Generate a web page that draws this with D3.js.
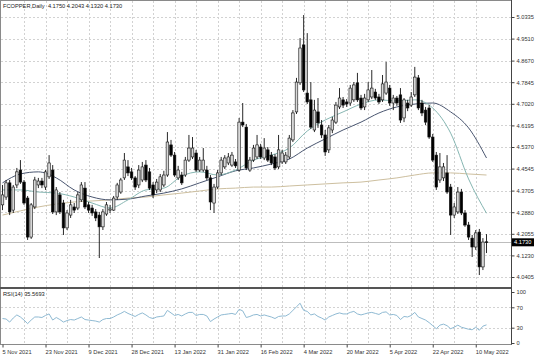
<!DOCTYPE html>
<html><head><meta charset="utf-8">
<script src="https://cdn.jsdelivr.net/npm/d3@7"></script>
<style>
html,body{margin:0;padding:0;background:#fff;}
svg{display:block;}
text{font-family:"Liberation Sans",Arial,sans-serif;}
</style>
</head><body>
<svg id="c" width="536" height="357"></svg>
<script>
// ---------- DATA ----------
const symbol = "FCOPPER,Daily";
// daily bars [open, high, low, close]
const bars = [
[4.316,4.392,4.296,4.354],[4.346,4.411,4.335,4.400],[4.400,4.411,4.277,4.289],[4.296,4.392,4.285,4.384],
[4.392,4.457,4.380,4.442],[4.449,4.487,4.396,4.403],[4.403,4.411,4.316,4.323],[4.342,4.350,4.182,4.193],
[4.193,4.323,4.186,4.316],[4.308,4.423,4.300,4.411],[4.392,4.419,4.380,4.407],[4.407,4.419,4.380,4.392],
[4.384,4.449,4.373,4.442],[4.423,4.506,4.415,4.476],[4.449,4.468,4.281,4.289],[4.289,4.384,4.277,4.373],
[4.354,4.365,4.281,4.289],[4.323,4.335,4.201,4.228],[4.228,4.296,4.220,4.285],[4.277,4.335,4.266,4.316],
[4.308,4.323,4.285,4.296],[4.304,4.365,4.296,4.354],[4.335,4.403,4.327,4.392],[4.380,4.403,4.300,4.308],
[4.316,4.327,4.285,4.296],[4.304,4.316,4.274,4.285],[4.289,4.300,4.254,4.266],[4.277,4.289,4.113,4.232],
[4.232,4.300,4.220,4.289],[4.281,4.327,4.274,4.316],[4.296,4.316,4.285,4.300],[4.296,4.350,4.293,4.342],
[4.346,4.400,4.335,4.392],[4.365,4.419,4.358,4.411],[4.419,4.514,4.411,4.487],[4.461,4.487,4.426,4.438],
[4.442,4.457,4.411,4.419],[4.419,4.426,4.373,4.384],[4.392,4.468,4.380,4.449],[4.411,4.480,4.403,4.461],
[4.468,4.487,4.403,4.411],[4.442,4.457,4.373,4.380],[4.392,4.403,4.342,4.354],[4.373,4.415,4.361,4.403],
[4.373,4.434,4.365,4.423],[4.392,4.446,4.384,4.430],[4.430,4.594,4.423,4.556],[4.545,4.564,4.499,4.506],
[4.506,4.518,4.423,4.430],[4.419,4.465,4.411,4.449],[4.430,4.442,4.392,4.400],[4.430,4.499,4.423,4.487],
[4.487,4.583,4.480,4.533],[4.499,4.575,4.491,4.533],[4.514,4.526,4.442,4.449],[4.449,4.499,4.442,4.487],
[4.449,4.533,4.442,4.487],[4.449,4.465,4.411,4.419],[4.419,4.430,4.296,4.327],[4.323,4.396,4.285,4.384],
[4.384,4.449,4.377,4.438],[4.438,4.499,4.430,4.487],[4.461,4.506,4.453,4.495],[4.476,4.514,4.468,4.499],
[4.468,4.518,4.461,4.506],[4.480,4.491,4.457,4.465],[4.449,4.648,4.442,4.632],[4.632,4.705,4.613,4.621],
[4.613,4.625,4.449,4.457],[4.449,4.499,4.442,4.487],[4.487,4.545,4.480,4.533],[4.499,4.583,4.491,4.545],
[4.537,4.549,4.491,4.499],[4.495,4.571,4.487,4.533],[4.526,4.537,4.480,4.487],[4.506,4.518,4.468,4.476],
[4.499,4.510,4.449,4.457],[4.461,4.583,4.453,4.526],[4.480,4.526,4.472,4.514],[4.480,4.518,4.472,4.506],
[4.499,4.583,4.491,4.571],[4.564,4.678,4.556,4.667],[4.671,4.801,4.663,4.785],[4.782,4.953,4.774,4.915],
[4.927,5.041,4.747,4.755],[4.743,4.972,4.701,4.709],[4.717,4.785,4.606,4.613],[4.602,4.717,4.594,4.678],
[4.671,4.724,4.610,4.629],[4.621,4.640,4.571,4.583],[4.583,4.602,4.503,4.518],[4.526,4.621,4.514,4.610],
[4.602,4.652,4.590,4.640],[4.632,4.709,4.625,4.697],[4.690,4.762,4.682,4.724],[4.717,4.728,4.686,4.697],
[4.709,4.720,4.690,4.701],[4.705,4.774,4.694,4.762],[4.717,4.785,4.709,4.774],[4.782,4.820,4.709,4.717],
[4.724,4.736,4.678,4.686],[4.690,4.740,4.678,4.724],[4.717,4.785,4.709,4.755],[4.728,4.831,4.720,4.762],
[4.747,4.759,4.717,4.724],[4.728,4.740,4.701,4.709],[4.717,4.812,4.709,4.778],[4.743,4.862,4.736,4.785],
[4.762,4.774,4.694,4.705],[4.705,4.736,4.678,4.724],[4.724,4.732,4.694,4.705],[4.736,4.762,4.629,4.640],
[4.648,4.724,4.632,4.717],[4.705,4.717,4.674,4.686],[4.697,4.747,4.690,4.728],[4.736,4.843,4.728,4.804],
[4.801,4.812,4.678,4.686],[4.705,4.717,4.655,4.667],[4.678,4.690,4.621,4.632],[4.686,4.697,4.568,4.575],
[4.575,4.587,4.480,4.487],[4.506,4.518,4.373,4.384],[4.411,4.514,4.400,4.461],[4.419,4.476,4.407,4.461],
[4.438,4.506,4.358,4.365],[4.384,4.396,4.201,4.277],[4.277,4.323,4.266,4.308],[4.289,4.384,4.281,4.365],
[4.365,4.377,4.277,4.285],[4.285,4.296,4.232,4.239],[4.239,4.251,4.182,4.193],[4.189,4.201,4.117,4.155],
[4.155,4.220,4.144,4.209],[4.212,4.224,4.048,4.079],[4.079,4.189,4.067,4.174],[4.1750,4.2043,4.1320,4.1730]
];

// moving averages read every 5 bars
const maIdx  = [0,5,10,15,20,25,30,35,40,45,50,55,60,65,70,75,80,85,90,95,100,105,110,115,120,125,130,135];
const maFast = [4.373,4.373,4.365,4.361,4.346,4.323,4.304,4.335,4.373,4.380,4.426,4.442,4.430,4.449,4.487,4.506,4.533,4.598,4.640,4.671,4.701,4.717,4.713,4.717,4.686,4.590,4.415,4.284];
const maMid  = [4.400,4.434,4.442,4.419,4.373,4.346,4.335,4.338,4.350,4.361,4.377,4.400,4.423,4.446,4.457,4.472,4.491,4.533,4.568,4.602,4.632,4.667,4.690,4.701,4.705,4.671,4.610,4.495];
const maSlow = [4.277,4.293,4.308,4.319,4.327,4.331,4.335,4.342,4.346,4.354,4.361,4.369,4.377,4.380,4.384,4.384,4.388,4.392,4.396,4.400,4.403,4.411,4.419,4.430,4.438,4.438,4.434,4.430];

// RSI(14), one value per bar
const rsi = [48,47,41,49,55,51,45,38,45,51,51,50,54,57,45,50,46,41,44,46,
45,48,51,46,45,44,43,41,46,48,48,51,55,58,62,58,55,52,56,59,
55,50,48,51,52,53,64,59,54,56,53,57,60,60,54,56,56,53,42,47,
51,55,56,57,58,56,66,63,50,52,55,56,53,55,53,51,48,52,53,53,
57,64,71,78,64,62,55,57,52,49,45,51,54,57,59,57,57,60,62,57,
55,57,59,60,58,56,60,61,55,56,54,46,52,51,54,60,51,48,45,40,
34,28,35,37,34,28,31,35,31,29,27,26,31,25,33,35.5693];

const priceTicks = [5.0335,4.9510,4.8670,4.7845,4.7020,4.6195,4.5370,4.4545,4.3705,4.2880,4.2055,4.1230,4.0405];
const rsiTicks = [100,70,30,0];
const rsiLevels = [70,30];
const dateLabels = ["5 Nov 2021","23 Nov 2021","9 Dec 2021","28 Dec 2021","13 Jan 2022","31 Jan 2022","16 Feb 2022","4 Mar 2022","20 Mar 2022","5 Apr 2022","22 Apr 2022","10 May 2022"];
const dateEvery = 12;   // a date label every 12 bars
const gridEvery = 6;    // vertical grid every 6 bars

// ---------- CHART ----------
const svg = d3.select("#c");
const R = 511;              // right edge of plot / axis line
const mainTop = 1, mainBot = 287, rsiTop = 289, rsiBot = 344;
const fs = 5.7;

const x = d3.scaleLinear().domain([0, bars.length - 1]).range([2.5, 486.5]);
const y = d3.scaleLinear().domain([4.0405, 5.0335]).range([277, 17]);
const ry = d3.scaleLinear().domain([0, 100]).range([343, 292]);
const cr = v => Math.round(v) + 0.5;

svg.append("rect").attr("width",536).attr("height",357).attr("fill","#fff");

const grid = svg.append("g").attr("stroke","#d2d2d2").attr("stroke-width",1).attr("stroke-dasharray","2,2");
grid.selectAll("line.h").data(priceTicks).join("line")
  .attr("x1",1).attr("x2",R).attr("y1",d=>cr(y(d))).attr("y2",d=>cr(y(d)));
const vIdx = d3.range(gridEvery, bars.length, gridEvery);
grid.selectAll("line.v").data(vIdx).join("line")
  .attr("x1",d=>cr(x(d))).attr("x2",d=>cr(x(d))).attr("y1",mainTop).attr("y2",mainBot);
grid.selectAll("line.v2").data(vIdx).join("line")
  .attr("x1",d=>cr(x(d))).attr("x2",d=>cr(x(d))).attr("y1",rsiTop).attr("y2",rsiBot);
grid.selectAll("line.r").data(rsiLevels).join("line")
  .attr("x1",1).attr("x2",R).attr("y1",d=>cr(ry(d))).attr("y2",d=>cr(ry(d)));

// bid line
const last = bars[bars.length-1];
svg.append("line").attr("x1",1).attr("x2",R).attr("y1",cr(y(last[3]))).attr("y2",cr(y(last[3])))
  .attr("stroke","#bdbdbd").attr("stroke-width",1);

svg.append("clipPath").attr("id","mc").append("rect").attr("x",1).attr("y",mainTop).attr("width",R-1).attr("height",mainBot-mainTop);
svg.append("clipPath").attr("id","rc").append("rect").attr("x",1).attr("y",rsiTop).attr("width",R-1).attr("height",rsiBot-rsiTop);

const main = svg.append("g").attr("clip-path","url(#mc)");

// moving averages
const maLine = d3.line().x((d,i)=>x(maIdx[i])).y(d=>y(d)).curve(d3.curveMonotoneX);
main.append("path").attr("d",maLine(maSlow)).attr("fill","none").attr("stroke","#cdbf9f").attr("stroke-width",1);
main.append("path").attr("d",maLine(maMid)).attr("fill","none").attr("stroke","#4a5670").attr("stroke-width",1);
main.append("path").attr("d",maLine(maFast)).attr("fill","none").attr("stroke","#86b6b2").attr("stroke-width",1);

// candles
const bw = 2.6;
const cg = main.append("g").selectAll("g").data(bars).join("g");
cg.append("line")
  .attr("x1",(d,i)=>x(i)).attr("x2",(d,i)=>x(i))
  .attr("y1",d=>y(d[1])).attr("y2",d=>y(d[2]))
  .attr("stroke","#111").attr("stroke-width",0.9);
cg.append("rect")
  .attr("x",(d,i)=>x(i)-bw/2).attr("width",bw)
  .attr("y",d=>y(Math.max(d[0],d[3])))
  .attr("height",d=>Math.max(0.8, Math.abs(y(d[0])-y(d[3]))))
  .attr("fill",d=>d[3]>=d[0] ? "#d8d8d8" : "#000")
  .attr("stroke","#111").attr("stroke-width",0.6);

// RSI line
const rsiLine = d3.line().x((d,i)=>x(i)).y(d=>ry(d));
svg.append("g").attr("clip-path","url(#rc)").append("path").attr("d",rsiLine(rsi))
  .attr("fill","none").attr("stroke","#8fbad3").attr("stroke-width",1);

// frame
svg.append("rect").attr("x",0.5).attr("y",0.5).attr("width",R).attr("height",rsiBot)
  .attr("fill","none").attr("stroke","#8a8a8a").attr("stroke-width",1);
svg.append("line").attr("x1",0).attr("x2",R+0.5).attr("y1",288).attr("y2",288)
  .attr("stroke","#555").attr("stroke-width",2);
svg.append("line").attr("x1",R+0.5).attr("x2",R+0.5).attr("y1",0).attr("y2",rsiBot+0.5)
  .attr("stroke","#444").attr("stroke-width",1);

// right price axis
const ax = svg.append("g").attr("transform",`translate(${R+0.5},0)`)
  .call(d3.axisRight(y).tickValues(priceTicks).tickFormat(d3.format(".4f")).tickSize(3).tickPadding(2));
ax.select(".domain").remove();
ax.selectAll("text").attr("font-size",fs).attr("fill","#333").attr("font-family","'Liberation Sans',Arial,sans-serif");
ax.selectAll("line").attr("stroke","#444");

// RSI axis
const rax = svg.append("g").attr("transform",`translate(${R+0.5},0)`)
  .call(d3.axisRight(ry).tickValues(rsiTicks).tickFormat(d3.format("d")).tickSize(3).tickPadding(2));
rax.select(".domain").remove();
rax.selectAll("text").attr("font-size",fs).attr("fill","#333").attr("font-family","'Liberation Sans',Arial,sans-serif");
rax.selectAll("line").attr("stroke","#444");

// bottom date axis
const dIdx = dateLabels.map((d,k)=>k*dateEvery);
const bx = svg.append("g").attr("transform",`translate(0,${rsiBot+0.5})`)
  .call(d3.axisBottom(x).tickValues(dIdx).tickFormat((d,k)=>dateLabels[k]).tickSize(3).tickPadding(2));
bx.select(".domain").remove();
bx.selectAll("text").attr("font-size",fs).attr("fill","#333").attr("text-anchor","start")
  .attr("dx",-0.5).attr("font-family","'Liberation Sans',Arial,sans-serif");
bx.selectAll("line").attr("stroke","#444");

// current price label
const lp = y(last[3]);
svg.append("rect").attr("x",R+1).attr("y",lp-4).attr("width",22).attr("height",8).attr("fill","#000");
svg.append("text").attr("x",R+3).attr("y",lp+2).attr("font-size",fs).attr("fill","#fff").text(d3.format(".4f")(last[3]));

// headers
const fmt = d3.format(".4f");
svg.append("text").attr("x",3).attr("y",7.5).attr("font-size",fs).attr("fill","#222")
  .attr("xml:space","preserve").style("white-space","pre")
  .text(`${symbol}  ${fmt(last[0])} ${fmt(last[1])} ${fmt(last[2])} ${fmt(last[3])}`);
svg.append("text").attr("x",3).attr("y",295.5).attr("font-size",fs).attr("fill","#222")
  .text(`RSI(14) ${d3.format(".4f")(rsi[rsi.length-1])}`);
</script>
</body></html>
